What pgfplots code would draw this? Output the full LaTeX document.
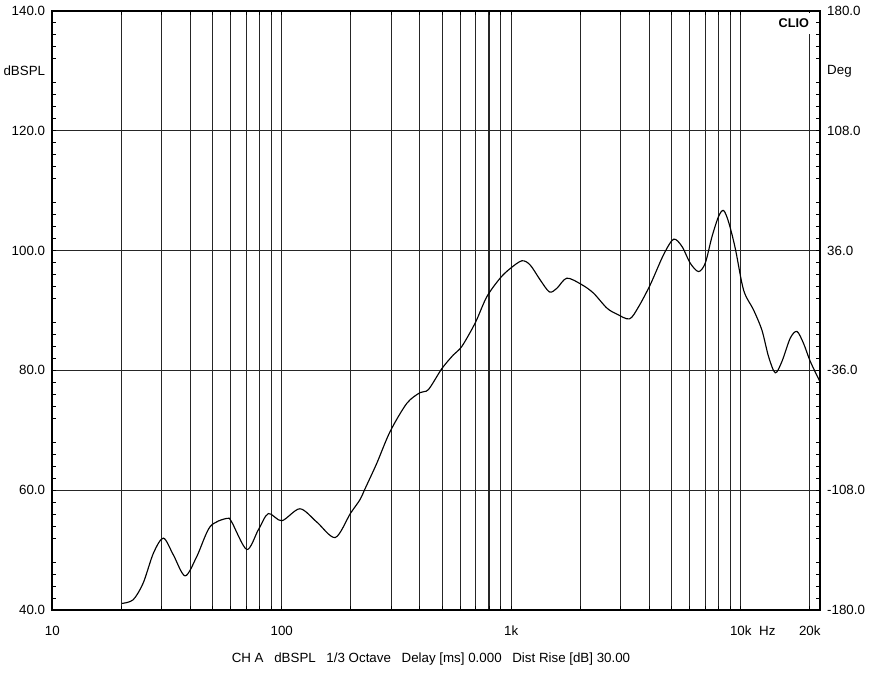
\documentclass[border=0pt]{standalone}
\usepackage{fontspec}
\setmainfont{Liberation Sans}
\usepackage{pgfplots}
\pgfplotsset{compat=1.18}

\begin{document}
\begin{tikzpicture}
% SPL curve, left axis (dBSPL)
\begin{axis}[
  name=ax,
  clip mode=individual,
  scale only axis, width=575.8pt, height=449.25pt,
  xmode=log, xmin=10, xmax=22150, ymin=40, ymax=140,
  xtick={10,100,1000,10000,20000},
  xticklabels={10,100,1k,10k,20k},
  minor xtick={20,30,40,50,60,70,80,90,200,300,400,500,600,700,800,900,2000,3000,4000,5000,6000,7000,8000,9000},
  ytick={40,60,80,100,120,140},
  yticklabels={40.0,60.0,80.0,100.0,120.0,140.0},
  extra y ticks={42,44,46,48,52,54,56,58,62,64,66,68,72,74,76,78,82,84,86,88,92,94,96,98,102,104,106,108,112,114,116,118,122,124,126,128,132,134,136,138},
  extra y tick labels={},
  extra y tick style={ymajorgrids=false, major tick length=3pt, tick style={black, line width=0.75pt}},
  ytick pos=both, tick align=inside,
  xmajorgrids, xminorgrids, ymajorgrids,
  major grid style={black!85, line width=0.8pt},
  minor grid style={black!85, line width=0.8pt},
  axis line style={line width=1.5pt},
  tick style={black, line width=0.75pt},
  major tick length=3pt, minor tick length=3pt,
  tick label style={font=\fontsize{10}{12}\selectfont},
  yticklabel style={inner xsep=5.2pt, inner ysep=0pt},
  xticklabel style={inner ysep=0pt, yshift=-12pt},
]
\addplot[black, line width=0.85pt, smooth, tension=0.5] coordinates {
  (20.1,41.1) (22.5,41.7) (24.9,44.5) (27.6,49.5) (30.5,52.0) (33.7,49.2)
  (37.9,45.7) (42.6,48.9) (48.7,53.9) (57.6,55.3) (60.5,54.7) (70.4,50.1)
  (79.1,53.4) (87.4,56.1) (100,54.9) (120,56.9) (142,54.7) (171,52.1)
  (199,56.1) (219,58.4) (231,60.3) (259.5,64.5) (296.6,69.8) (350.7,74.5)
  (400.8,76.3) (435.6,76.8) (498.4,80.3) (559.8,82.6) (609,84.0) (696,87.9)
  (782.7,92.3) (894.5,95.4) (989,97.0) (1112,98.3) (1209,97.6) (1337,95.1)
  (1467,93.1) (1580,93.7) (1748,95.4) (2032,94.3) (2282,92.9) (2611,90.4)
  (2886,89.4) (3276,88.6) (3585,90.6) (4033,94.3) (4608,99.3) (5095,101.9)
  (5543,100.7) (6025,97.9) (6548,96.5) (7003,97.9) (7491,102.3) (8003,105.7)
  (8414,106.7) (8847,104.8) (9462,100.4) (10290,93.4) (11370,90.1) (12370,86.7)
  (13220,82.3) (14140,79.6) (15120,81.5) (16440,85.4) (17580,86.5) (18780,84.5)
  (20090,81.5) (22150,78.1)
};
\node[anchor=east, inner xsep=5.2pt, inner ysep=0pt] at (rel axis cs:0,0.9) {dBSPL};
\node[anchor=north, inner ysep=0pt, yshift=-12pt] at (axis cs:13050,40) {Hz};
\node[anchor=north east, fill=white, font=\fontsize{9.5}{11}\selectfont\bfseries,
      inner xsep=1.5pt, inner ysep=0pt, minimum height=16pt, xshift=1pt, yshift=-1.2pt]
      at (axis cs:20000,140) {CLIO};
\node[anchor=base, yshift=-39.6pt] at (rel axis cs:0.4933,0)
  {CH A\hspace{8pt}dBSPL\hspace{8pt}1/3 Octave\hspace{8pt}Delay [ms] 0.000\hspace{8pt}Dist Rise [dB] 30.00};
\end{axis}
% phase scale, right axis (Deg)
\begin{axis}[
  clip mode=individual,
  scale only axis, width=575.8pt, height=449.25pt,
  xmin=0, xmax=1, ymin=-180, ymax=180,
  hide x axis,
  axis y line*=right,
  axis line style={draw=none},
  ytick={-180,-108,-36,36,108,180},
  yticklabels={-180.0,-108.0,-36.0,36.0,108.0,180.0},
  major tick length=0pt,
  tick label style={font=\fontsize{10}{12}\selectfont},
  yticklabel style={inner xsep=5.2pt, inner ysep=0pt},
]
\node[anchor=west, inner xsep=5.2pt, inner ysep=0pt] at (rel axis cs:1,0.9) {Deg};
\end{axis}
\pgfresetboundingbox
\path ([shift={(-39.2pt,-48.75pt)}]ax.south west) rectangle ([shift={(45pt,8.25pt)}]ax.north east);
\end{tikzpicture}
\end{document}
